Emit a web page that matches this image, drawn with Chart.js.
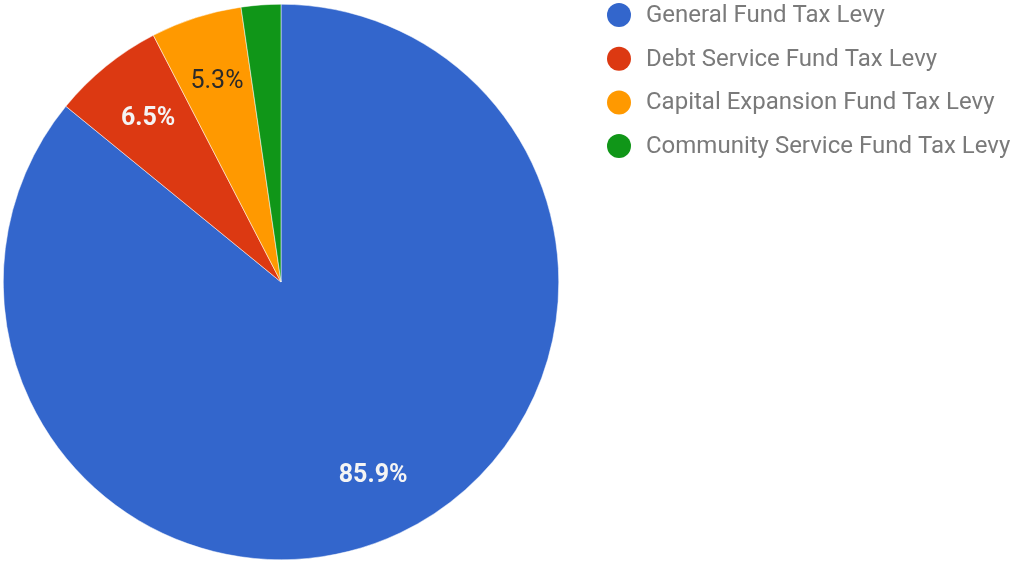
<!DOCTYPE html>
<html>
<head>
<meta charset="utf-8">
<script src="https://cdn.jsdelivr.net/npm/chart.js@4/dist/chart.umd.min.js"></script>
<style>
  html, body { margin: 0; padding: 0; background: #fff; }
  #wrap { width: 1012px; height: 564px; position: relative; }
</style>
</head>
<body>
<div id="wrap"><canvas id="levyPie" width="1012" height="564"></canvas></div>
<script>
// tax levy shares, in percent
var fundNames = [
    "General Fund Tax Levy",
    "Debt Service Fund Tax Levy",
    "Capital Expansion Fund Tax Levy",
    "Community Service Fund Tax Levy"
];
var levyShares = [85.9, 6.5, 5.3, 2.3];
var sliceColors = ["#3366cc", "#dc3912", "#ff9900", "#109618"];
var labelColors = ["#f4f4f4", "#f4f4f4", "#2a2a2a", "#f4f4f4"];
var labelWeights = ["bold", "bold", "normal", "bold"];

// percent text drawn inside each slice (skip the tiny ones)
var sliceLabels = {
    id: 'sliceLabels',
    afterDatasetsDraw: function (chart) {
        var ctx = chart.ctx;
        var meta = chart.getDatasetMeta(0);
        var total = levyShares.reduce(function (a, b) { return a + b; }, 0);
        ctx.save();
        ctx.textAlign = 'center';
        ctx.textBaseline = 'middle';
        meta.data.forEach(function (arc, i) {
            var pct = levyShares[i] / total * 100;
            if (pct < 4) return;
            var mid = (arc.startAngle + arc.endAngle) / 2;
            var r = arc.outerRadius * 0.765;
            ctx.font = labelWeights[i] + ' 25px Roboto';
            ctx.fillStyle = labelColors[i];
            ctx.fillText(levyShares[i].toFixed(1) + '%', arc.x + Math.cos(mid) * r + 1, arc.y + Math.sin(mid) * r + 2);
        });
        ctx.restore();
    }
};

// legend column on the right
var sideLegend = {
    id: 'sideLegend',
    afterDraw: function (chart) {
        var ctx = chart.ctx;
        var x0 = 619, y0 = 15, step = 43.7;
        ctx.save();
        ctx.font = '24px Roboto';
        ctx.textBaseline = 'middle';
        fundNames.forEach(function (name, i) {
            var y = y0 + i * step;
            ctx.beginPath();
            ctx.arc(x0, y, 12, 0, Math.PI * 2);
            ctx.fillStyle = sliceColors[i];
            ctx.fill();
            ctx.fillStyle = '#7a7a7a';
            ctx.fillText(name, x0 + 27, y + 1);
        });
        ctx.restore();
    }
};

var ctx = document.getElementById("levyPie").getContext("2d");
var levyChart = new Chart(ctx, {
    type: 'pie',
    data: {
        labels: fundNames,
        datasets: [{
            data: levyShares,
            backgroundColor: sliceColors,
            borderColor: '#ffffff',
            borderWidth: 0.5
        }]
    },
    options: {
        responsive: false,
        animation: false,
        layout: { padding: { left: 3, top: 4, right: 453, bottom: 4 } },
        plugins: {
            legend: { display: false },
            tooltip: { enabled: false }
        }
    },
    plugins: [sliceLabels, sideLegend]
});
</script>
</body>
</html>
